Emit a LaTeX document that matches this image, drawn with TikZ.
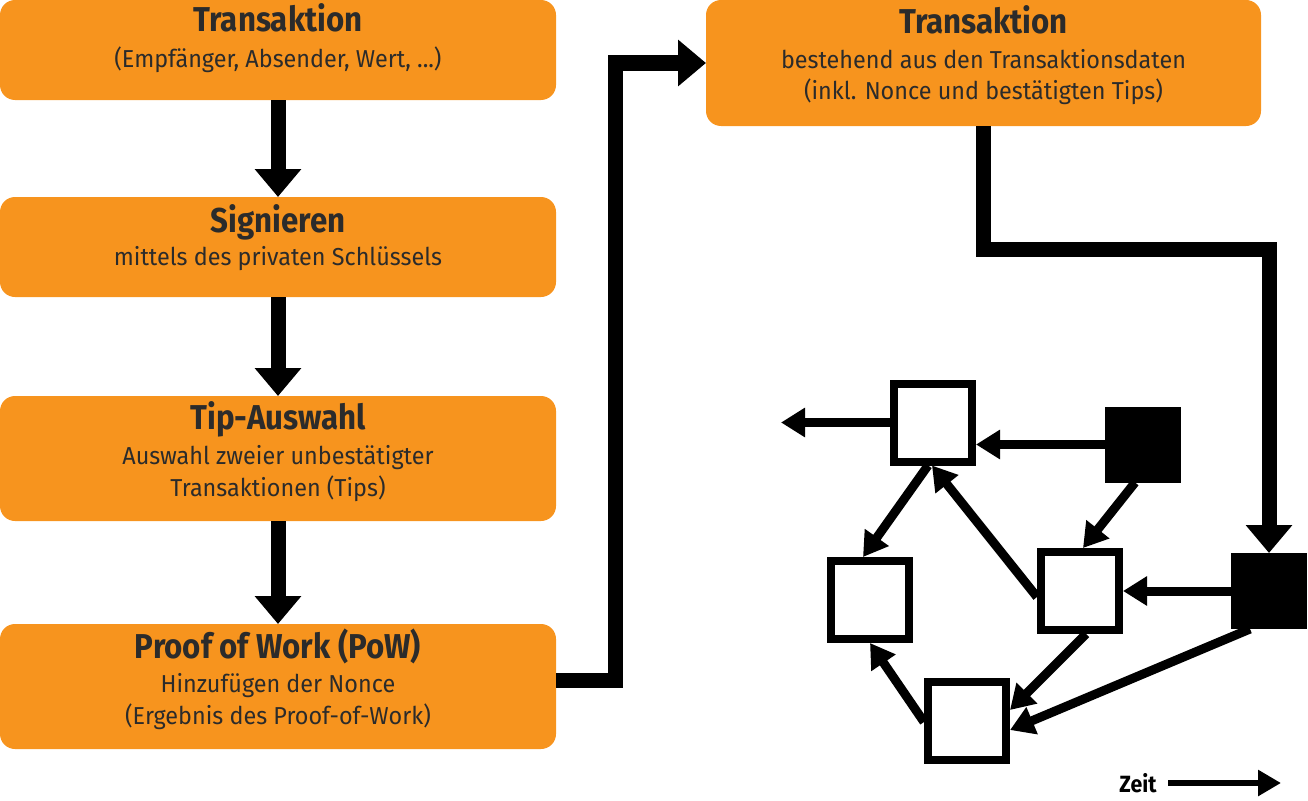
\documentclass[tikz,border=0pt]{standalone}
\usepackage{fontspec}
\setmainfont{Fira Sans}[FakeStretch=0.955]
\newfontfamily\ttlfont{Fira Sans}[FakeStretch=0.906]
\usetikzlibrary{arrows.meta,calc}
\definecolor{boxorange}{HTML}{F7941E}
\definecolor{txt}{HTML}{2B2B2B}
\begin{document}
\begin{tikzpicture}[x=1pt,y=-1pt,
  box/.style={fill=boxorange, rounded corners=15pt, inner sep=0pt, outer sep=0pt},
  ttl/.style={font=\ttlfont\fontsize{34.5}{36}\selectfont\bfseries, text=txt, inner sep=0pt, anchor=base},
  sub/.style={font=\fontsize{24.5}{28}\selectfont, text=txt, inner sep=0pt, anchor=base},
  flow/.style={line width=15pt, -{Triangle[length=28pt,width=45pt]}},
  link/.style={line width=9pt, -{Triangle[length=24pt,width=28pt]}},
  wsq/.style={draw=black, line width=8pt, fill=white, minimum size=78pt, inner sep=0pt, outer sep=4pt},
  bsq/.style={fill=black, minimum size=76pt, inner sep=0pt, outer sep=0pt},
]
\useasboundingbox (0,0) rectangle (1308,800);

% left column boxes
\node[box, minimum width=556pt, minimum height=100pt] (T1) at (278,50) {};
\node[box, minimum width=556pt, minimum height=100pt] (S) at (278,247) {};
\node[box, minimum width=556pt, minimum height=125pt] (TA) at (278,458.5) {};
\node[box, minimum width=556pt, minimum height=125pt] (P) at (278,686.5) {};
% right box
\node[box, minimum width=555pt, minimum height=126pt] (R) at (983.5,63) {};

% texts
\node[ttl] (t1a) at (278,32) {Transaktion};
\node[sub] (t1b) at (278,67) {(Empfänger, Absender, Wert, ...)};
\node[ttl] (t2a) at (278,232) {Signieren};
\node[sub] (t2b) at (278,265) {mittels des privaten Schlüssels};
\node[ttl] (t3a) at (278,429) {Tip-Auswahl};
\node[sub] (t3b) at (278,464) {Auswahl zweier unbestätigter};
\node[sub] (t3c) at (278,496) {Transaktionen (Tips)};
\node[ttl] (t4a) at (278,658) {Proof of Work (PoW)};
\node[sub] (t4b) at (278,692) {Hinzufügen der Nonce};
\node[sub] (t4c) at (278,724) {(Ergebnis des Proof-of-Work)};
\node[ttl] (r1) at (983.5,34) {Transaktion};
\node[sub] (r2) at (983.5,68) {bestehend aus den Transaktionsdaten};
\node[sub] (r3) at (983.5,99) {(inkl. Nonce und bestätigten Tips)};

% squares
\node[wsq] (A) at (933,422.5) {};
\node[bsq] (B) at (1143,444.5) {};
\node[wsq] (C) at (870,600) {};
\node[wsq] (D) at (1080,591) {};
\node[bsq] (E) at (1269,591) {};
\node[wsq] (F) at (967,721) {};
\coordinate (out) at (781,422.5);

% flow arrows
\draw[flow] (T1.south) -- (S.north);
\draw[flow] (S.south) -- (TA.north);
\draw[flow] (TA.south) -- (P.north);
\coordinate (k1) at (615,63);
\draw[flow] ($(P.east)+(0,-6.5)$) -| (k1) -- (R.west);
\draw[flow] (R.south) -- ++(0,123) -| (E.north);

% graph arrows
\draw[link] (A.west) -- (out);
\draw[link] (B.west) -- (B.west -| A.east);
\draw[link] ($(B.south)+(-8,0)$) -- ($(D.north)+(3,0)$);
\draw[link] ($(A.south)+(-5,0)$) -- ($(C.north)+(-7,0)$);
\draw[link] ($(D.west)+(0,6)$) -- ($(A.south)+(-1,0)$);
\draw[link] (E.west) -- (D.east);
\draw[link] ($(D.south)+(6,0)$) -- ($(F.east)+(0,-11)$);
\draw[link] ($(E.south)+(-19,0)$) -- ($(F.east)+(0,9)$);
\draw[link] ($(F.west)+(0,1)$) -- (C.south);

% time arrow
\node[font=\ttlfont\fontsize{23.5}{24}\selectfont\bfseries, text=black, inner sep=0pt, anchor=base] (Z) at (1138,792) {Zeit};
\coordinate (zs) at (1168,783);
\coordinate (ze) at (1281,783);
\draw[line width=6pt, -{Triangle[length=23pt,width=25pt]}] (zs) -- (ze);
\end{tikzpicture}
\end{document}
